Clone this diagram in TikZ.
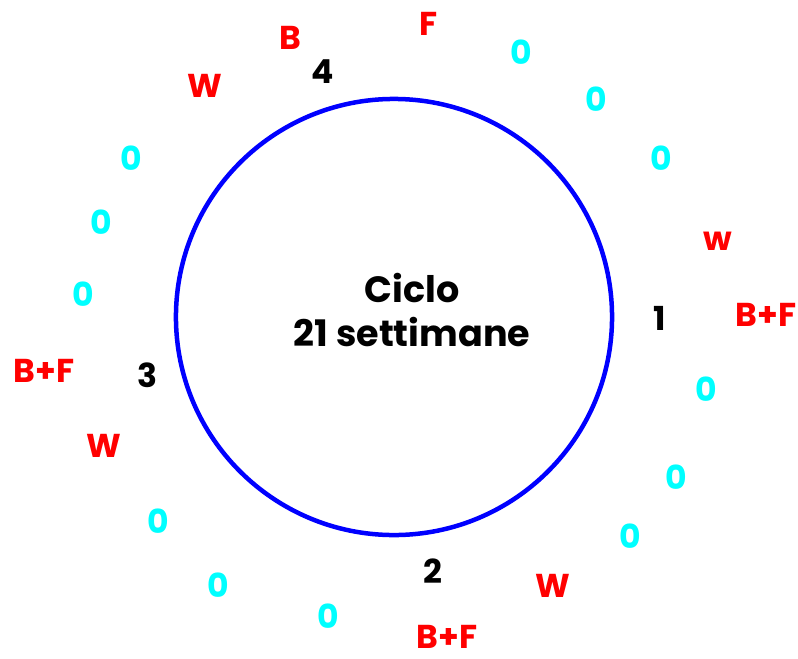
\documentclass[tikz,border=0pt]{standalone}
\usepackage{fontspec}
\setmainfont{Poppins}
\usepackage{tikz}
\usetikzlibrary{positioning}
\definecolor{weekred}{RGB}{255,0,0}
\definecolor{zerocyan}{RGB}{0,255,255}
\definecolor{ringblue}{RGB}{0,0,255}

\begin{document}
\begin{tikzpicture}[x=0.025cm,y=-0.025cm,
  lbl/.style={font=\fontsize{23.5}{28}\selectfont\bfseries, inner sep=0pt},
  wk/.style={lbl, text=weekred},
  zr/.style={lbl, text=zerocyan},
  num/.style={lbl, text=black}]
\useasboundingbox (0,0) rectangle (798,659);

% the ring
\node[draw=ringblue, circle, line width=3.2pt, minimum size=10.9cm, inner sep=0pt] (ring) at (394,317) {};
\node[lbl, font=\fontsize{26}{31}\selectfont\bfseries, align=center] (title) at (412,310) {Ciclo\\21 settimane};

% quarter marks
\node[num] (q1) at (660,318) {1};
\node[num] (q2) at (433,571) {2};
\node[num] (q3) at (147,375) {3};
\node[num] (q4) at (323,72) {4};

% weeks 1 -> 4
\node[wk] (a1) at (766,315) {B+F};
\node[wk] (a2) at (718,241) {w};
\node[zr] (a3) at (661,158) {0};
\node[zr] (a4) at (596,99) {0};
\node[zr] (a5) at (521,52) {0};
\node[wk] (a6) at (429,24) {F};

% weeks 4 -> 3
\node[wk] (b1) at (290,38) {B};
\node[wk] (b2) at (205,86) {W};
\node[zr] (b3) at (131,158) {0};
\node[zr] (b4) at (101,222) {0};
\node[zr] (b5) at (83,294) {0};

% weeks 3 -> 2
\node[wk] (c1) at (44,371) {B+F};
\node[wk] (c2) at (104,446) {W};
\node[zr] (c3) at (158,521) {0};
\node[zr] (c4) at (218,585) {0};
\node[zr] (c5) at (328,616) {0};

% weeks 2 -> 1
\node[wk] (d1) at (447,637) {B+F};
\node[wk] (d2) at (553,586) {W};
\node[zr] (d3) at (630,536) {0};
\node[zr] (d4) at (676,477) {0};
\node[zr] (d5) at (706,389) {0};
\end{tikzpicture}
\end{document}
